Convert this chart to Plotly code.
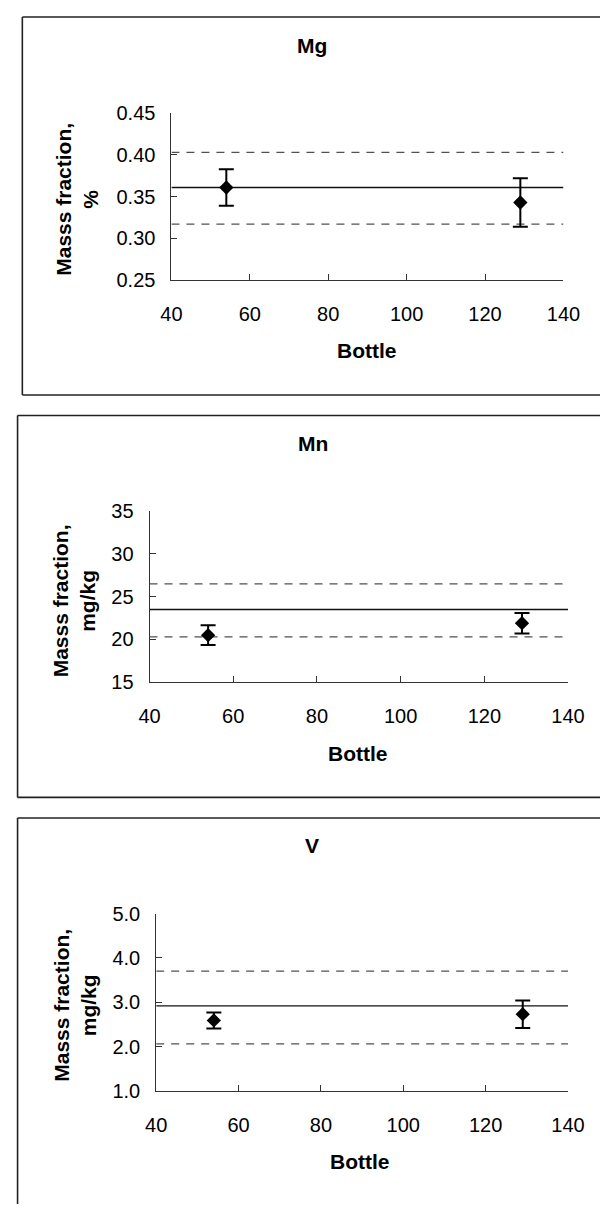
import plotly.graph_objects as go

# ---------------- data ----------------
bottles = [54, 129]

mg_values = [0.361, 0.343]
mg_errors = [0.022, 0.029]
mg_mean = 0.361
mg_lower = 0.317
mg_upper = 0.403

mn_values = [20.5, 21.9]
mn_errors = [1.15, 1.2]
mn_mean = 23.5
mn_lower = 20.3
mn_upper = 26.5

v_values = [2.59, 2.73]
v_errors = [0.18, 0.31]
v_mean = 2.92
v_lower = 2.06
v_upper = 3.70

panel_titles = ["Mg", "Mn", "V"]
y_titles = ["Masss fraction,<br>%", "Masss fraction,<br>mg/kg", "Masss fraction,<br>mg/kg"]
x_title = "Bottle"
x_range = [40, 140]
x_ticks = [40, 60, 80, 100, 120, 140]
mg_ticks = [0.25, 0.30, 0.35, 0.40, 0.45]
mn_ticks = [15, 20, 25, 30, 35]
v_ticks = [1.0, 2.0, 3.0, 4.0, 5.0]

# ---------------- layout helpers ----------------
# the page body keeps the browser's default 8px margin, so the figure is sized
# to fit the window exactly and positions are given in window pixels
OFF = 8
W, H = 608 - 2 * OFF, 1212 - 2 * OFF
def px(x):
    return (x - OFF) / W
def py(y):
    return 1 - (y - OFF) / H

FONT = "Liberation Sans, Arial, sans-serif"
TICK_SIZE = 20
LABEL_SIZE = 21

panels = [
    dict(vals=mg_values, errs=mg_errors, mean=mg_mean, lo=mg_lower, hi=mg_upper,
         ticks=mg_ticks, fmt=".2f", dom_x=(168, 579.5), dom_y=(104, 274),
         title_xy=(316, 35), xt_xy=(373, 346), yt_xy=(68, 192),
         box=(11.5, 6, 391)),
    dict(vals=mn_values, errs=mn_errors, mean=mn_mean, lo=mn_lower, hi=mn_upper,
         ticks=mn_ticks, fmt="d", dom_x=(145, 584.3), dom_y=(509.3, 683.7),
         title_xy=(317, 440), xt_xy=(364, 756), yt_xy=(66, 601),
         box=(6.5, 412, 801)),
    dict(vals=v_values, errs=v_errors, mean=v_mean, lo=v_lower, hi=v_upper,
         ticks=v_ticks, fmt=".1f", dom_x=(152, 584.3), dom_y=(919.3, 1100),
         title_xy=(316, 850), xt_xy=(366, 1172), yt_xy=(66, 1013),
         box=(6.5, 822, 1240)),
]

fig = go.Figure()
shapes = []
annotations = []

for i, p in enumerate(panels):
    n = "" if i == 0 else str(i + 1)
    xa, ya = "x" + n, "y" + n
    # certified mean (solid)
    fig.add_trace(go.Scatter(x=x_range, y=[p["mean"]] * 2, mode="lines",
                             line=dict(color="#111111", width=1.3),
                             xaxis=xa, yaxis=ya, showlegend=False, hoverinfo="skip"))
    # uncertainty limits (dashed)
    for lim in (p["lo"], p["hi"]):
        fig.add_trace(go.Scatter(x=x_range, y=[lim] * 2, mode="lines",
                                 line=dict(color="#505050", width=1.3, dash="8px,7px"),
                                 xaxis=xa, yaxis=ya, showlegend=False, hoverinfo="skip"))
    # bottle results with error bars
    fig.add_trace(go.Scatter(x=bottles, y=p["vals"], mode="markers",
                             marker=dict(symbol="diamond", size=11, color="black"),
                             error_y=dict(type="data", array=p["errs"], visible=True,
                                          color="black", thickness=2, width=7.5),
                             xaxis=xa, yaxis=ya, showlegend=False))

    fig.layout["xaxis" + n] = dict(
        domain=[px(p["dom_x"][0]), px(p["dom_x"][1])], range=x_range,
        tickvals=x_ticks, ticks="inside", ticklen=6, tickcolor="#333333", tickwidth=1,
        showline=True, linecolor="#333333", linewidth=1, showgrid=False, zeroline=False,
        tickfont=dict(family=FONT, size=TICK_SIZE, color="black"),
        ticklabelstandoff=16, anchor=ya, fixedrange=True)
    fig.layout["yaxis" + n] = dict(
        domain=[py(p["dom_y"][1]), py(p["dom_y"][0])],
        range=[p["ticks"][0], p["ticks"][-1]], tickvals=p["ticks"], tickformat=p["fmt"],
        ticks="inside", ticklen=6, tickcolor="#333333", tickwidth=1,
        showline=True, linecolor="#333333", linewidth=1, showgrid=False, zeroline=False,
        tickfont=dict(family=FONT, size=TICK_SIZE, color="black"),
        ticklabelstandoff=11, anchor=xa, fixedrange=True)

    common = dict(xref="paper", yref="paper", showarrow=False,
                  xanchor="center", yanchor="middle",
                  font=dict(family=FONT, size=LABEL_SIZE, color="black"))
    annotations.append(dict(text="<b>%s</b>" % panel_titles[i],
                            x=px(p["title_xy"][0]), y=py(p["title_xy"][1]), **common))
    annotations.append(dict(text="<b>%s</b>" % x_title,
                            x=px(p["xt_xy"][0]), y=py(p["xt_xy"][1]), **common))
    annotations.append(dict(text="<b>%s</b>" % y_titles[i].replace("<br>", "</b><br><b>"),
                            x=px(p["yt_xy"][0]), y=py(p["yt_xy"][1]), textangle=-90, **common))

    bx, top, bot = p["box"]
    for (x0, y0, x1, y1) in [(bx, top, 630, top), (bx, bot, 630, bot), (bx, top, bx, bot)]:
        shapes.append(dict(type="line", xref="paper", yref="paper",
                           x0=px(x0), y0=py(y0), x1=px(x1), y1=py(y1),
                           line=dict(color="#222222", width=1.6)))

fig.update_layout(width=W, height=H, margin=dict(l=0, r=0, t=0, b=0),
                  paper_bgcolor="white", plot_bgcolor="white",
                  shapes=shapes, annotations=annotations, showlegend=False)

fig.write_html("out.html")
